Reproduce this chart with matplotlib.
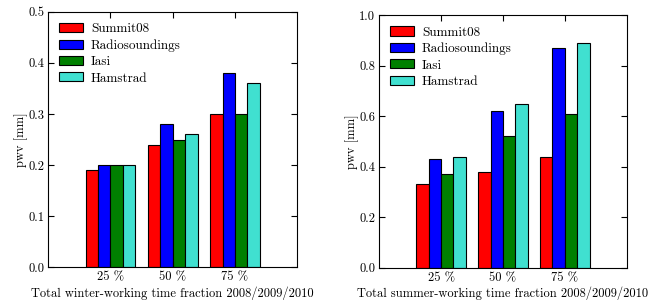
import numpy as np
import matplotlib
matplotlib.use('Agg')
import matplotlib.pyplot as plt

plt.rcParams['font.family'] = 'serif'
plt.rcParams['font.serif'] = ['cmr10', 'DejaVu Serif']
plt.rcParams['mathtext.fontset'] = 'cm'
plt.rcParams['axes.unicode_minus'] = False
plt.rcParams['axes.formatter.use_mathtext'] = True

#Data
names = ['Summit08', 'Radiosoundings', 'Iasi', 'Hamstrad']
colors = ['#ff0000', '#0000ff', '#008000', '#40e0d0']
ticklabels = ['25 %', '50 %', '75 %']

winter_summit = [0.19, 0.24, 0.30]
winter_radio = [0.20, 0.28, 0.38]
winter_iasi = [0.20, 0.25, 0.30]
winter_hamstrad = [0.20, 0.26, 0.36]

summer_summit = [0.33, 0.38, 0.44]
summer_radio = [0.43, 0.62, 0.87]
summer_iasi = [0.37, 0.52, 0.61]
summer_hamstrad = [0.44, 0.65, 0.89]

winter = [winter_summit, winter_radio, winter_iasi, winter_hamstrad]
summer = [summer_summit, summer_radio, summer_iasi, summer_hamstrad]

fig = plt.figure(figsize=(6.55, 3.0), dpi=100)
ax1 = fig.add_axes([0.0737, 0.109, 0.380, 0.852])
ax2 = fig.add_axes([0.579, 0.1077, 0.3777, 0.842])

ind = np.arange(1, 4)
width = 0.2

def draw(ax, series, ymax, yticks, xlabel):
    for i, vals in enumerate(series):
        ax.bar(ind - 0.4 + i*width, vals, width, align='edge', color=colors[i],
               edgecolor='black', linewidth=0.8, label=names[i])
    ax.set_xlim(0, 4)
    ax.set_ylim(0, ymax)
    ax.set_xticks(ind)
    ax.set_xticklabels(ticklabels, fontsize=9)
    ax.set_yticks(yticks)
    ax.set_yticklabels(['%.1f' % t for t in yticks], fontsize=9)
    ax.tick_params(direction='in', top=True, right=True, length=4, width=0.8, pad=3)
    ax.set_ylabel('pwv [mm]', fontsize=9, labelpad=0)
    ax.set_xlabel(xlabel, fontsize=9, labelpad=2)
    for s in ax.spines.values():
        s.set_linewidth(0.8)
    ax.legend(loc='upper left', frameon=False, fontsize=9.5, handlelength=1.8,
              handleheight=0.68, handletextpad=0.6, labelspacing=0.31,
              borderpad=0, borderaxespad=0,
              bbox_to_anchor=(0.044, 0.955))

draw(ax1, winter, 0.5, np.arange(0, 0.51, 0.1),
     'Total winter-working time fraction 2008/2009/2010')
draw(ax2, summer, 1.0, np.arange(0, 1.01, 0.2),
     'Total summer-working time fraction 2008/2009/2010')

fig.savefig('out.png', dpi=100)
